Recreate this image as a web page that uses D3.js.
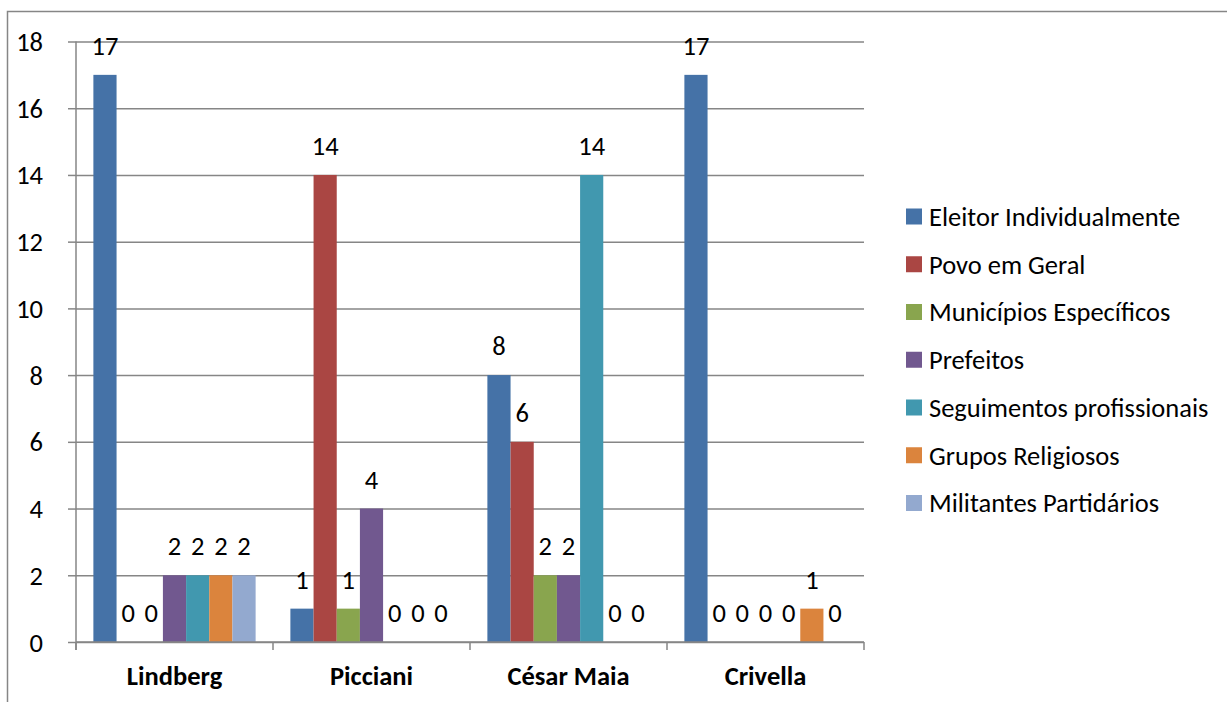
<!DOCTYPE html>
<html>
<head>
<meta charset="utf-8">
<script src="https://cdn.jsdelivr.net/npm/d3@7"></script>
<style>
  html, body { margin: 0; padding: 0; background: #fff; }
  svg text { font-family: Carlito, Calibri, Lato, "Open Sans", sans-serif; fill: #000; }
</style>
</head>
<body>
<svg id="chart" width="1227" height="702"></svg>
<script>
// Candidates on the category axis
const candidates = ["Lindberg", "Picciani", "César Maia", "Crivella"];

// One array of counts per audience type, in candidate order
const eleitorIndividualmente = [17, 1, 8, 17];
const povoEmGeral = [0, 14, 6, 0];
const municipiosEspecificos = [0, 1, 2, 0];
const prefeitos = [2, 4, 2, 0];
const seguimentosProfissionais = [2, 0, 14, 0];
const gruposReligiosos = [2, 0, 0, 1];
const militantesPartidarios = [2, 0, 0, 0];

const seriesNames = [
  "Eleitor Individualmente",
  "Povo em Geral",
  "Municípios Específicos",
  "Prefeitos",
  "Seguimentos profissionais",
  "Grupos Religiosos",
  "Militantes Partidários"
];
const seriesValues = [
  eleitorIndividualmente, povoEmGeral, municipiosEspecificos, prefeitos,
  seguimentosProfissionais, gruposReligiosos, militantesPartidarios
];
const seriesColors = ["#4572A7", "#AA4643", "#89A54E", "#71588F", "#4198AF", "#DB843D", "#93A9CF"];

const yTicks = [0, 2, 4, 6, 8, 10, 12, 14, 16, 18];

const FONT = "26.5px";

const svg = d3.select("#chart");
const plot = { left: 76, right: 864, top: 41.5, bottom: 642 };

// Outer chart frame (runs past the right and bottom edges)
svg.append("rect")
  .attr("x", 7.5).attr("y", 11.5)
  .attr("width", 1400).attr("height", 900)
  .attr("fill", "none").attr("stroke", "#868686").attr("stroke-width", 1.5);

const x0 = d3.scaleBand().domain(candidates).range([plot.left, plot.right]).paddingInner(0).paddingOuter(0);
// 150% gap width: bars occupy 7 / 8.5 of each category slot
const groupW = x0.bandwidth();
const barW = groupW / 8.5;
const x1 = d3.scaleBand().domain(seriesNames)
  .range([0.75 * barW, groupW - 0.75 * barW]).padding(0);

const y = d3.scaleLinear().domain([0, 18]).range([plot.bottom, plot.top]);

// Horizontal gridlines
const grid = svg.append("g")
  .attr("transform", `translate(${plot.left},0)`)
  .call(d3.axisLeft(y).tickValues(yTicks).tickSize(-(plot.right - plot.left)).tickFormat(""));
grid.select(".domain").remove();
grid.selectAll(".tick line").attr("stroke", "#868686").attr("stroke-width", 1.5);

// Value axis tick stubs and labels
const yAxis = svg.append("g")
  .attr("transform", `translate(${plot.left},0)`)
  .call(d3.axisLeft(y).tickValues(yTicks).tickSize(8).tickPadding(25).tickFormat(d3.format("d")));
yAxis.select(".domain").remove();
yAxis.selectAll(".tick line").attr("stroke", "#868686").attr("stroke-width", 1.5);
yAxis.selectAll(".tick text")
  .style("font-size", FONT).attr("dy", "0.34em");

// Bars
const groups = svg.append("g").selectAll("g")
  .data(candidates)
  .join("g")
  .attr("transform", d => `translate(${x0(d)},0)`);

groups.selectAll("rect")
  .data((c, ci) => seriesNames.map((s, si) => ({ s, si, v: seriesValues[si][ci] })))
  .join("rect")
  .attr("x", d => x1(d.s))
  .attr("y", d => y(d.v))
  .attr("width", x1.bandwidth())
  .attr("height", d => plot.bottom - y(d.v))
  .attr("fill", d => seriesColors[d.si]);

// Value labels above each bar
groups.selectAll("text")
  .data((c, ci) => seriesNames.map((s, si) => ({ s, si, v: seriesValues[si][ci] })))
  .join("text")
  .attr("x", d => x1(d.s) + x1.bandwidth() / 2)
  .attr("y", d => y(d.v) - 20)
  .attr("text-anchor", "middle")
  .style("font-size", FONT)
  .text(d => d.v);

// Category axis
const xAxis = svg.append("g")
  .attr("transform", `translate(0,${plot.bottom})`)
  .call(d3.axisBottom(x0).tickSize(0).tickPadding(24));
xAxis.select(".domain").remove();
xAxis.selectAll(".tick text")
  .style("font-size", FONT).style("font-weight", "bold").attr("dy", "0.71em");

// Axis lines and category dividers
svg.append("line")
  .attr("x1", plot.left).attr("x2", plot.left)
  .attr("y1", plot.top).attr("y2", plot.bottom + 8)
  .attr("stroke", "#868686").attr("stroke-width", 1.5);
svg.append("line")
  .attr("x1", plot.left).attr("x2", plot.right)
  .attr("y1", plot.bottom).attr("y2", plot.bottom)
  .attr("stroke", "#868686").attr("stroke-width", 1.5);
svg.append("g").selectAll("line")
  .data(candidates.map(c => x0(c)).concat([plot.right]))
  .join("line")
  .attr("x1", d => d).attr("x2", d => d)
  .attr("y1", plot.bottom).attr("y2", plot.bottom + 8)
  .attr("stroke", "#868686").attr("stroke-width", 1.5);

// Legend
const legend = svg.append("g").attr("transform", "translate(906,0)");
const legendY = d3.scalePoint().domain(seriesNames).range([216.5, 503]);
const items = legend.selectAll("g")
  .data(seriesNames)
  .join("g")
  .attr("transform", d => `translate(0,${legendY(d)})`);
items.append("rect")
  .attr("x", 0).attr("y", -8).attr("width", 16).attr("height", 16)
  .attr("fill", (d, i) => seriesColors[i]);
items.append("text")
  .attr("x", 23).attr("y", 0).attr("dy", "0.35em")
  .style("font-size", FONT)
  .text(d => d);
</script>
</body>
</html>
